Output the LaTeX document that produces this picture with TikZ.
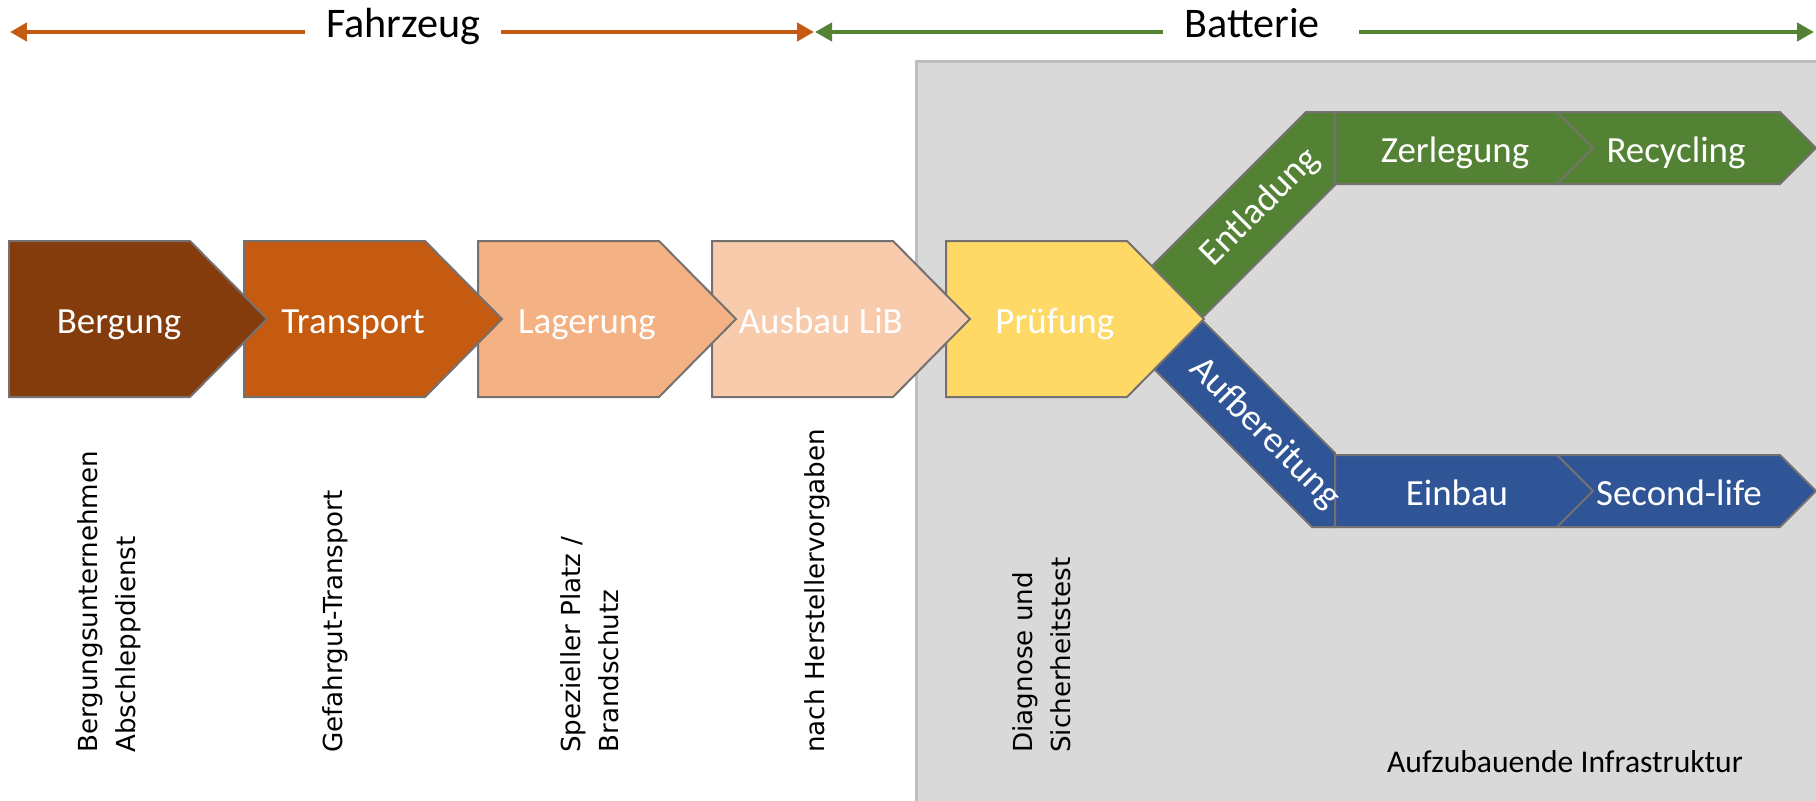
\documentclass[tikz,border=0pt]{standalone}
\usepackage{fontspec}
\setmainfont{Carlito}
\newfontfamily\notefont{DejaVu Sans}
\usetikzlibrary{arrows.meta,positioning}

\definecolor{bergbrown}{HTML}{843C0C}
\definecolor{transorange}{HTML}{C55A11}
\definecolor{lagerorange}{HTML}{F4B183}
\definecolor{ausbaupeach}{HTML}{F8CBAD}
\definecolor{pruefgold}{HTML}{FFD966}
\definecolor{entgreen}{HTML}{548235}
\definecolor{aufblue}{HTML}{2F5597}
\definecolor{infragray}{HTML}{D9D9D9}
\definecolor{infraline}{HTML}{BFBFBF}
\definecolor{chevline}{HTML}{767171}

\begin{document}
\begin{tikzpicture}[x=0.02cm, y=-0.02cm, on grid, node distance=4.68cm,
  chev/.style={draw=chevline, line width=0.04cm},
  steplabel/.style={text=white, inner sep=0pt, text height=0.7em, text depth=0.2em,
    font=\fontsize{21}{25}\selectfont},
  note/.style={rotate=90, anchor=west, align=left, inner sep=0pt,
    font=\notefont\fontsize{14.9}{21.5}\selectfont},
  toplabel/.style={inner ysep=0pt, inner xsep=0.42cm, text height=0.7em, text depth=0.2em,
    font=\fontsize{24}{28}\selectfont},
  span/.style={line width=0.1cm, -{Triangle[length=0.34cm,width=0.36cm]}}]
   \useasboundingbox (0,0) rectangle (1816,801);

   % area that still has to be built
   \draw[fill=infragray, draw=infraline, line width=0.06cm] (916,61) rectangle (1840,830);
   \node[font=\fontsize{18}{22}\selectfont] (infra) at (1565,762) {Aufzubauende Infrastruktur};

   % branches, partly hidden behind Prüfung
   \draw[chev, fill=entgreen] (1201,319) -- (1335,185) -- (1335,112) -- (1306,112) -- (1130,288) -- cycle;
   \draw[chev, fill=aufblue] (1201,319) -- (1335,453) -- (1335,527) -- (1312,527) -- (1130,345) -- cycle;

   \foreach \x/\y/\col in {1558/112/entgreen, 1335/112/entgreen, 1558/455/aufblue, 1335/455/aufblue}
      \draw[chev, fill=\col] (\x,\y) -- ++(222,0) -- ++(36,36) -- ++(-36,36) -- ++(-222,0) -- cycle;

   % main chain, right to left so each tip lies on top
   \foreach \x/\col in {946/pruefgold, 712/ausbaupeach, 478/lagerorange, 244/transorange, 9/bergbrown}
      \draw[chev, fill=\col] (\x,241) -- ++(181,0) -- ++(77,78) -- ++(-77,78) -- ++(-181,0) -- cycle;

   \node[steplabel] (bergung)   at (119,329) {Bergung};
   \node[steplabel] (transport) [right=of bergung]   {Transport};
   \node[steplabel] (lagerung)  [right=of transport] {Lagerung};
   \node[steplabel] (ausbau)    [right=of lagerung]  {Ausbau LiB};
   \node[steplabel] (pruefung)  [right=of ausbau]    {Prüfung};

   \node[steplabel, rotate=45]  (entladung)    at (1264,211) {Entladung};
   \node[steplabel, rotate=-45] (aufbereitung) at (1261,437) {Aufbereitung};
   \node[steplabel] (zerlegung)  at (1455,158) {Zerlegung};
   \node[steplabel] (recycling)  at (1676,158) {Recycling};
   \node[steplabel] (einbau)     at (1457,501) {Einbau};
   \node[steplabel] (secondlife) at (1679,501) {Second-life};

   % notes below the chain
   \node[note] (n_bergung)   at (109,753)  {Bergungsunternehmen\\Abschleppdienst};
   \node[note] (n_transport) at (335,753)  {Gefahrgut-Transport};
   \node[note] (n_lagerung)  at (590,753)  {Spezieller Platz /\\Brandschutz};
   \node[note] (n_ausbau)    at (817,753)  {nach Herstellervorgaben};
   \node[note] (n_pruefung)  at (1042,753) {Diagnose und\\Sicherheitstest};

   % spans at the top
   \node[toplabel] (fahrzeug) at (403,33)  {Fahrzeug};
   \node[toplabel] (batterie) at (1252,33) {Batterie};
   \coordinate (fz_left)  at (10,32);
   \coordinate (fz_right) at (814,32);
   \coordinate (bt_left)  at (815,32);
   \coordinate (bt_right) at (1814,32);
   \coordinate (bt_gap) at ([xshift=0.36cm]batterie.east);
   \draw[span, transorange] (fahrzeug.west |- fz_left) -- (fz_left);
   \draw[span, transorange] (fahrzeug.east |- fz_right) -- (fz_right);
   \draw[span, entgreen] (batterie.west |- bt_left) -- (bt_left);
   \draw[span, entgreen] (bt_gap |- bt_right) -- (bt_right);
\end{tikzpicture}
\end{document}
